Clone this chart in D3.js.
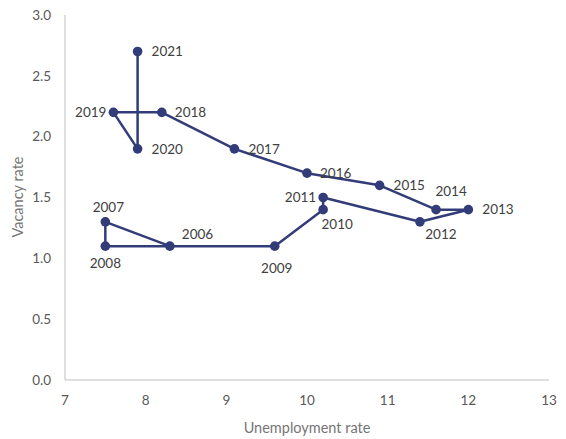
<!DOCTYPE html>
<html>
<head>
<meta charset="utf-8">
<script src="https://cdn.jsdelivr.net/npm/d3@7"></script>
<style>
	body { margin: 0; background: #fff; }
	text { font-family: Lato, "Open Sans", sans-serif; }
</style>
</head>
<body>
<div id="chart-area"></div>
<script>
// DATA
const years = [2006, 2007, 2008, 2009, 2010, 2011, 2012, 2013, 2014, 2015, 2016, 2017, 2018, 2019, 2020, 2021]
const unemployment = [8.3, 7.5, 7.5, 9.6, 10.2, 10.2, 11.4, 12.0, 11.6, 10.9, 10.0, 9.1, 8.2, 7.6, 7.9, 7.9]
const vacancy = [1.1, 1.3, 1.1, 1.1, 1.4, 1.5, 1.3, 1.4, 1.4, 1.6, 1.7, 1.9, 2.2, 2.2, 1.9, 2.7]
const xTicks = [7, 8, 9, 10, 11, 12, 13]
const yTicks = [0, 0.5, 1.0, 1.5, 2.0, 2.5, 3.0]

// label placement per year (dx, dy, anchor)
const labelPlace = {
	2006: [12, -12, "start"], 2007: [3, -15, "middle"], 2008: [0, 17, "middle"],
	2009: [2, 22, "middle"], 2010: [14, 15, "middle"], 2011: [-7, 0, "end"],
	2012: [21, 12, "middle"], 2013: [14, 0, "start"], 2014: [15, -18, "middle"],
	2015: [14, 0, "start"], 2016: [13, 0, "start"], 2017: [14, 0, "start"],
	2018: [13, 0, "start"], 2019: [-7, 0, "end"], 2020: [14, 0, "start"],
	2021: [14, 0, "start"]
}

const W = 566, H = 439
const COLOR = "#323C78"

const svg = d3.select("#chart-area").append("svg")
	.attr("width", W)
	.attr("height", H)

const x = d3.scaleLinear().domain([7, 13]).range([65, 549])
const y = d3.scaleLinear().domain([0, 3]).range([380, 15])

// axes lines
svg.append("line")
	.attr("x1", x(7)).attr("x2", x(7))
	.attr("y1", y(3)).attr("y2", y(0))
	.attr("stroke", "#BFBFBF").attr("stroke-width", 1)
svg.append("line")
	.attr("x1", x(7)).attr("x2", x(13))
	.attr("y1", y(0)).attr("y2", y(0))
	.attr("stroke", "#BFBFBF").attr("stroke-width", 1)

// tick labels
svg.selectAll(".ytick").data(yTicks).enter().append("text")
	.attr("class", "ytick")
	.attr("x", 51)
	.attr("y", d => y(d))
	.attr("dy", "0.35em")
	.attr("text-anchor", "end")
	.attr("font-size", "13.5px")
	.attr("fill", "#595959")
	.text(d => d3.format(".1f")(d))

svg.selectAll(".xtick").data(xTicks).enter().append("text")
	.attr("class", "xtick")
	.attr("x", d => x(d))
	.attr("y", 405)
	.attr("text-anchor", "middle")
	.attr("font-size", "13.5px")
	.attr("fill", "#595959")
	.text(d => d)

// axis titles
svg.append("text")
	.attr("x", 307)
	.attr("y", 433)
	.attr("text-anchor", "middle")
	.attr("font-size", "14.5px")
	.attr("fill", "#767676")
	.text("Unemployment rate")

svg.append("text")
	.attr("transform", "rotate(-90)")
	.attr("x", -197)
	.attr("y", 23)
	.attr("text-anchor", "middle")
	.attr("font-size", "14.5px")
	.attr("fill", "#767676")
	.text("Vacancy rate")

const points = years.map((yr, i) => ({ year: yr, u: unemployment[i], v: vacancy[i] }))

// connecting line
const line = d3.line().x(d => x(d.u)).y(d => y(d.v))
svg.append("path")
	.datum(points)
	.attr("d", line)
	.attr("fill", "none")
	.attr("stroke", COLOR)
	.attr("stroke-width", 2.5)
	.attr("stroke-linejoin", "round")

// markers
svg.selectAll("circle").data(points).enter().append("circle")
	.attr("cx", d => x(d.u))
	.attr("cy", d => y(d.v))
	.attr("r", 4.8)
	.attr("fill", COLOR)

// data labels
svg.selectAll(".lbl").data(points).enter().append("text")
	.attr("class", "lbl")
	.attr("x", d => x(d.u) + labelPlace[d.year][0])
	.attr("y", d => y(d.v) + labelPlace[d.year][1])
	.attr("dy", "0.35em")
	.attr("text-anchor", d => labelPlace[d.year][2])
	.attr("font-size", "13.5px")
	.attr("fill", "#404040")
	.text(d => d.year)
</script>
</body>
</html>
